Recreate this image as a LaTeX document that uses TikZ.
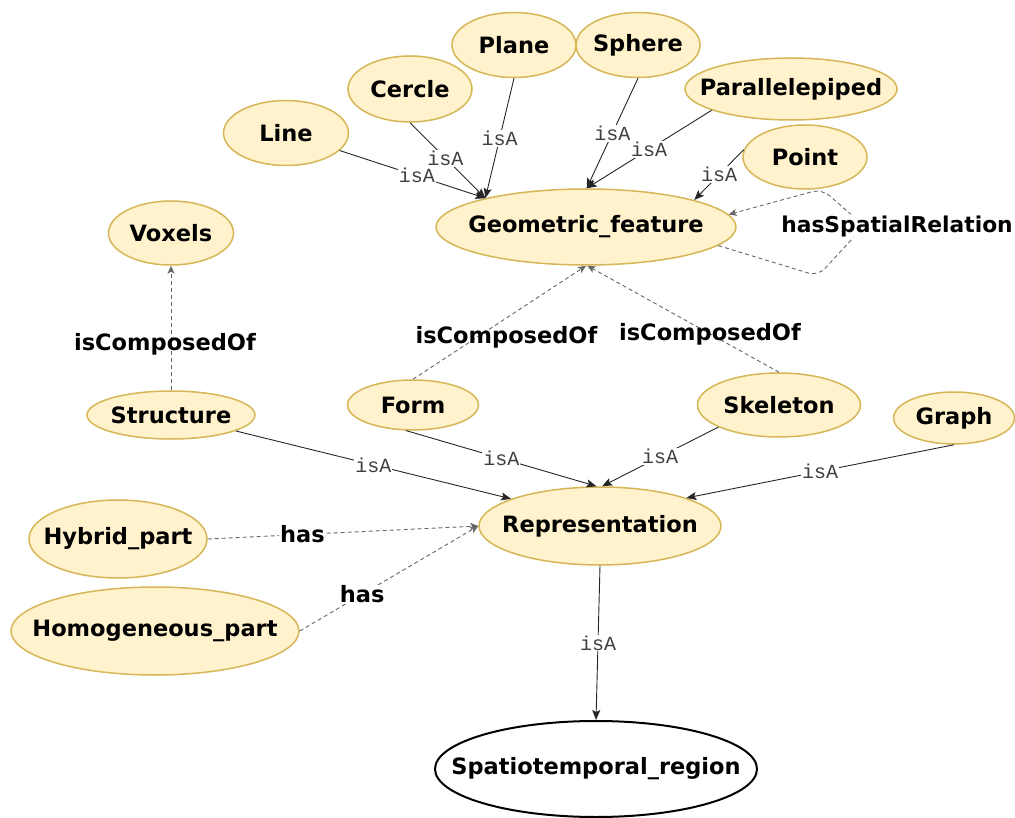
\documentclass[tikz,border=0pt]{standalone}
\usepackage{fontspec}
\setmainfont{DejaVu Sans}
\setmonofont{Liberation Mono}
\usepackage{tikz}
\usetikzlibrary{arrows.meta,shapes.geometric}
\definecolor{clsfill}{HTML}{FFF2CC}
\definecolor{clsline}{HTML}{D6B656}
\definecolor{relgray}{HTML}{666666}
% class names are centred without widening the ellipse
\newcommand{\clsname}[1]{\makebox[0pt]{#1}}

\begin{document}
\begin{tikzpicture}[x=1pt, y=-1pt,
    cls/.style={ellipse, draw=clsline, fill=clsfill, line width=1.5pt, inner sep=0pt,
                font=\fontsize{22.5}{26}\selectfont\bfseries},
    root/.style={ellipse, draw=black, fill=white, line width=2pt, inner sep=0pt,
                font=\fontsize{22.5}{26}\selectfont\bfseries},
    isa/.style={-{Stealth[length=10pt, width=8pt, inset=2pt]}, line width=0.9pt, black!85},
    rel/.style={-{Stealth[length=8pt, width=7pt, inset=2pt]}, dash pattern=on 4pt off 3pt,
                line width=0.9pt, relgray},
    lbl/.style={fill=white, inner sep=1pt, font=\fontsize{20}{22}\selectfont\ttfamily, text=black!75},
    rlbl/.style={inner sep=1pt, text=black, font=\fontsize{22.5}{26}\selectfont\bfseries}
]
\useasboundingbox (0,0) rectangle (1015,818);

% geometric features
\node[cls, minimum width=124pt, minimum height=65pt] (plane) at (514,45) {\clsname{Plane}};
\node[cls, minimum width=124pt, minimum height=65pt] (sphere) at (638,45) {\clsname{Sphere}};
\node[cls, minimum width=124pt, minimum height=66pt] (cercle) at (410,89) {\clsname{Cercle}};
\node[cls, minimum width=125pt, minimum height=65pt] (line) at (286,133) {\clsname{Line}};
\node[cls, minimum width=212pt, minimum height=62pt] (para) at (791,89) {\clsname{Parallelepiped}};
\node[cls, minimum width=124pt, minimum height=64pt] (point) at (805,157) {\clsname{Point}};
\node[cls, minimum width=300pt, minimum height=76pt] (geo) at (586,227) {\clsname{Geometric\_feature}};

% representations
\node[cls, minimum width=125pt, minimum height=64pt] (voxels) at (171,233) {\clsname{Voxels}};
\node[cls, minimum width=168pt, minimum height=48pt] (structure) at (171,415) {\clsname{Structure}};
\node[cls, minimum width=131pt, minimum height=50pt] (form) at (413,405) {\clsname{Form}};
\node[cls, minimum width=163pt, minimum height=64pt] (skeleton) at (779,405) {\clsname{Skeleton}};
\node[cls, minimum width=121pt, minimum height=52pt] (graph) at (954,418) {\clsname{Graph}};
\node[cls, minimum width=242pt, minimum height=78pt] (rep) at (600,526) {\clsname{Representation}};
\node[cls, minimum width=178pt, minimum height=78pt] (hybrid) at (118,539) {\clsname{Hybrid\_part}};
\node[cls, minimum width=288pt, minimum height=88pt] (homog) at (155,631) {\clsname{Homogeneous\_part}};
\node[root, minimum width=322pt, minimum height=96pt] (spatio) at (596,769) {\clsname{Spatiotemporal\_region}};

% isA links
\draw[isa] (line) -- node[lbl, pos=0.53] {isA} (geo.164);
\draw[isa] (cercle.south) -- node[lbl, pos=0.47] {isA} (geo.164);
\draw[isa] (plane.south) -- node[lbl, pos=0.5] {isA} (geo.164);
\draw[isa] (sphere.south) -- node[lbl, pos=0.5] {isA} (geo.89);
\draw[isa] (para.195) -- node[lbl, pos=0.5] {isA} (geo.89);
\draw[isa] (point.173) -- node[lbl, pos=0.5] {isA} (geo.14);
\draw[isa] (structure) -- node[lbl, pos=0.5] {isA} (rep.163);
\draw[isa] (form.255) -- node[lbl, pos=0.5] {isA} (rep.95);
\draw[isa] (skeleton.200) -- node[lbl, pos=0.5] {isA} (rep.87);
\draw[isa] (graph.south) -- node[lbl, pos=0.5] {isA} (rep.18);
\draw[isa] (rep.south) -- node[lbl, pos=0.5] {isA} (spatio.north);

% object properties
\draw[rel] (structure) -- node[rlbl, pos=0.37, xshift=-6pt] {isComposedOf} (voxels);
\draw[rel] (form.north) -- node[rlbl, pos=0.5, xshift=7pt, yshift=-15pt] {isComposedOf} (geo.south);
\draw[rel] (skeleton.north) -- node[rlbl, pos=0.36] {isComposedOf} (geo.272);
\draw[rel] (hybrid.east) -- node[rlbl, fill=white, pos=0.35] {has} (rep.west);
\draw[rel] (homog.east) -- node[rlbl, fill=white, pos=0.35] {has} (rep.west);
\draw[rel, rounded corners=10pt] (geo.-8) -- (818,276) -- (864,226)
    node[rlbl, fill=white, xshift=33pt, font=\fontsize{21.8}{26}\selectfont\bfseries] {hasSpatialRelation}
    -- (822,189) -- (geo.5);
\end{tikzpicture}
\end{document}
